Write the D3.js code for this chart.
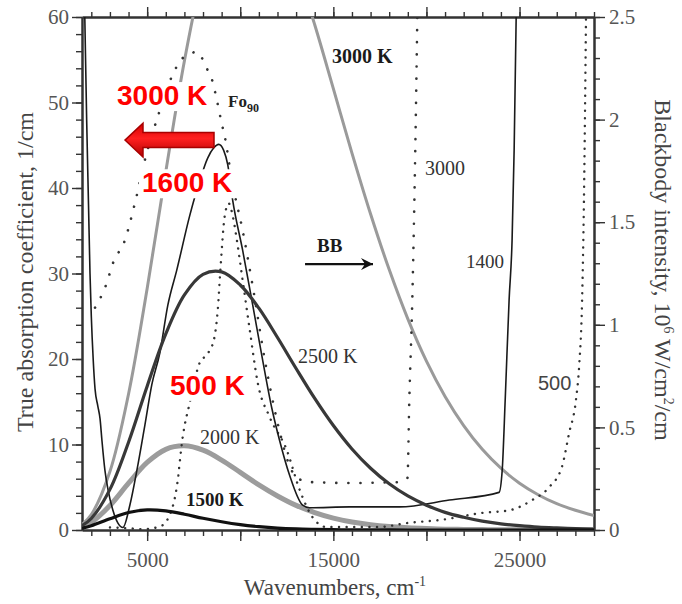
<!DOCTYPE html>
<html>
<head>
<meta charset="utf-8">
<script src="https://cdn.jsdelivr.net/npm/d3@7"></script>
<style>
  body { margin: 0; background: #fff; }
  svg { display: block; }
  .axis text { font-family: 'Liberation Serif', 'Times New Roman', serif; font-size: 21px; fill: #555; }
  .axis path, .axis line { stroke: #333; }
  .axis path { stroke-width: 2; }
  .axis line { stroke-width: 1.4; }
  .lbl { font-family: 'Liberation Serif', 'Times New Roman', serif; fill: #333; }
  .title { font-family: 'Liberation Serif', 'Times New Roman', serif; fill: #444; }
  .red { font-family: 'Liberation Sans', Arial, sans-serif; font-weight: bold; font-size: 28px; fill: #f00; }
  .curve { fill: none; stroke-linejoin: round; }
</style>
</head>
<body>
<div class="chart"></div>
<script>
// wavenumber grid for the blackbody curves (cm-1)
const wnBB = [1500, 2000, 3000, 4000, 5000, 6000, 7000, 8000, 9000, 10000, 11000, 12000, 13000, 14000,
  15000, 16000, 17000, 18000, 19000, 20000, 21000, 22000, 23000, 24000, 25000, 26000, 27000, 28000, 29000];

// blackbody intensity, 10^6 W/cm2/cm (right axis)
const bb1500 = [0.009, 0.021, 0.055, 0.085, 0.098, 0.093, 0.077, 0.057, 0.040, 0.026, 0.016, 0.009, 0.005, 0.003,
  0.0016, 0.0009, 0.0004, 0.0002, 0.0001, 0.0001, 0, 0, 0, 0, 0, 0, 0, 0, 0];
const bb2000 = [0.015, 0.037, 0.119, 0.228, 0.329, 0.393, 0.410, 0.389, 0.341, 0.281, 0.220, 0.166, 0.120, 0.085,
  0.058, 0.039, 0.026, 0.017, 0.011, 0.007, 0.004, 0.003, 0.002, 0.001, 0.001, 0, 0, 0, 0];
const bb2500 = [0.021, 0.056, 0.198, 0.428, 0.701, 0.956, 1.146, 1.246, 1.258, 1.194, 1.081, 0.938, 0.787, 0.641,
  0.509, 0.395, 0.301, 0.225, 0.166, 0.121, 0.086, 0.062, 0.043, 0.030, 0.021, 0.014, 0.010, 0.007, 0.004];
const bb3000 = [0.027, 0.075, 0.285, 0.663, 1.177, 1.746, 2.286, 2.720, 3.010, 3.140, 3.120, 2.980, 2.745, 2.462,
  2.151, 1.837, 1.540, 1.269, 1.029, 0.823, 0.651, 0.509, 0.393, 0.301, 0.228, 0.172, 0.128, 0.096, 0.070];

// true absorption coefficient, 1/cm (left axis)
const abs500Wn = [3000, 4000, 4770, 5680, 6220, 6590, 6910, 7290, 7830, 8200, 8580, 8790, 8950, 9170, 9380,
  9590, 9860, 10130, 10510, 10940, 11580, 12490, 13190, 13880, 14630, 17470, 18920, 20850, 23000, 24440,
  25680, 26590, 27280, 27660, 28030, 28200, 28360, 28460, 28570];
const abs500 = [0.3, 0.2, 0.1, 0.4, 1.8, 5, 10.9, 14.9, 19.6, 20.5, 22.2, 25.7, 31, 36.8, 38.2,
  36.8, 33.3, 29.2, 23.4, 17.2, 13.2, 9.4, 4.7, 1.5, 0.35, 0.35, 0.8, 1.2, 2, 2.3,
  3.5, 5, 7.4, 11.3, 15.2, 19.1, 26.9, 38.6, 60];

const abs1400Wn = [1650, 1750, 1850, 1930, 2000, 2100, 2200, 2350, 2470, 2570, 2730, 2900, 3160, 3430, 3700,
  4070, 4450, 4880, 5250, 5680, 6110, 6590, 7290, 7830, 8250, 8580, 8840, 9110, 9330, 9590,
  10130, 10670, 11200, 11690, 12110, 12650, 13350, 13720, 15870, 18550, 21230, 23900, 24070, 24230, 24440,
  24600, 24710, 24820];
const abs1400 = [60, 48, 38, 30, 25, 20, 16.5, 14.5, 13, 10.5, 7, 4.7, 2.3, 0.8, 0.3,
  2.9, 7, 12.3, 17, 20.7, 26.3, 30.4, 36.8, 40.9, 43.5, 44.7, 45.1, 44.4, 42.7, 38.6,
  32.7, 26.3, 19.9, 14.3, 10.5, 6.4, 2.9, 2.6, 2.7, 2.7, 3.5, 4.4, 7, 15.2, 26.9,
  33.9, 44.4, 60];

const abs3000Wn = [2200, 2730, 3270, 3700, 4340, 4880, 5520, 6490, 6910, 7670, 8200, 8520, 8740, 9000, 9170,
  9540, 10130, 10670, 11310, 12010, 12650, 13100, 13880, 15870, 18550, 18980, 19080, 19240, 19400, 19510];
const abs3000 = [26, 28.3, 31.8, 33.3, 38.2, 43.3, 48, 53.8, 55.2, 55.9, 54, 52.4, 50.3, 47.6, 46,
  41, 35, 28.5, 20, 12.5, 7.5, 6, 5.6, 5.5, 5.6, 6.1, 15.2, 26.9, 44.4, 60];

// ticks
const xMajor = [5000, 10000, 15000, 20000, 25000];
const xLabels = [5000, 15000, 25000];
const yLeftTicks = [0, 10, 20, 30, 40, 50, 60];
const yRightTicks = [0, 0.5, 1, 1.5, 2, 2.5];
const yRightLabels = ['0', '0.5', '1', '1.5', '2', '2.5'];

const margin = { top: 17, right: 88, bottom: 74, left: 82 };
const width = 682 - margin.left - margin.right;
const height = 604 - margin.top - margin.bottom;

const x = d3.scaleLinear().domain([1500, 29000]).range([0, width]);
const yL = d3.scaleLinear().domain([0, 60]).range([height, 0]);
const yR = d3.scaleLinear().domain([0, 2.5]).range([height, 0]);

const root = d3.select('.chart').append('svg')
    .attr('width', 682)
    .attr('height', 604);

const defs = root.append('defs');
defs.append('clipPath').attr('id', 'plot')
  .append('rect').attr('width', width).attr('height', height);

const grad = defs.append('linearGradient').attr('id', 'redgrad')
  .attr('x1', 0).attr('y1', 0).attr('x2', 0).attr('y2', 1);
grad.append('stop').attr('offset', '0%').attr('stop-color', '#d40000');
grad.append('stop').attr('offset', '45%').attr('stop-color', '#ff2020');
grad.append('stop').attr('offset', '100%').attr('stop-color', '#b00000');

defs.append('marker').attr('id', 'head')
    .attr('viewBox', '-12 -6 13 12')
    .attr('refX', 0).attr('refY', 0)
    .attr('markerWidth', 13).attr('markerHeight', 12)
    .attr('markerUnits', 'userSpaceOnUse')
    .attr('orient', 'auto')
  .append('path')
    .attr('d', 'M0,0 L-12,-6 L-8,0 L-12,6 Z')
    .attr('fill', '#111');

const svg = root.append('g')
    .attr('transform', `translate(${margin.left}, ${margin.top})`);

// axes: minor ticks first, then majors with labels
const xMinor = d3.range(2000, 29001, 1000);
svg.append('g').attr('class', 'axis')
    .attr('transform', `translate(0, ${height})`)
    .call(d3.axisBottom(x).tickValues(xMinor).tickSize(6).tickSizeOuter(0).tickFormat(''));
svg.append('g').attr('class', 'axis')
    .attr('transform', `translate(0, ${height})`)
    .call(d3.axisBottom(x).tickValues(xMajor).tickSize(11).tickPadding(11).tickSizeOuter(0)
      .tickFormat(d => xLabels.includes(d) ? d : ''));
svg.append('g').attr('class', 'axis')
    .call(d3.axisTop(x).tickValues(xMinor).tickSize(5).tickSizeOuter(0).tickFormat(''));
svg.append('g').attr('class', 'axis')
    .call(d3.axisTop(x).tickValues(xMajor).tickSize(10).tickSizeOuter(0).tickFormat(''));

svg.append('g').attr('class', 'axis')
    .call(d3.axisLeft(yL).tickValues(d3.range(0, 61, 2)).tickSize(6).tickSizeOuter(0).tickFormat(''));
svg.append('g').attr('class', 'axis')
    .call(d3.axisLeft(yL).tickValues(yLeftTicks).tickSize(10).tickPadding(3).tickSizeOuter(0));

svg.append('g').attr('class', 'axis')
    .attr('transform', `translate(${width}, 0)`)
    .call(d3.axisRight(yR).tickValues(d3.range(0, 2.501, 0.1)).tickSize(6).tickSizeOuter(0).tickFormat(''));
svg.append('g').attr('class', 'axis')
    .attr('transform', `translate(${width}, 0)`)
    .call(d3.axisRight(yR).tickValues(yRightTicks).tickSize(11).tickPadding(4).tickSizeOuter(0)
      .tickFormat((d, i) => yRightLabels[i]));

// curves
const plot = svg.append('g').attr('clip-path', 'url(#plot)');

function drawCurve(wn, vals, yScale, stroke, sw, dash, curve) {
  const line = d3.line()
    .x(d => x(d[0]))
    .y(d => yScale(d[1]))
    .curve(curve || d3.curveMonotoneX);
  plot.append('path')
    .datum(d3.zip(wn, vals))
    .attr('class', 'curve')
    .attr('d', line)
    .attr('stroke', stroke)
    .attr('stroke-width', sw)
    .attr('stroke-linecap', dash ? 'round' : 'butt')
    .attr('stroke-dasharray', dash || null);
}

const smooth = d3.curveCatmullRom.alpha(0.5);
drawCurve(wnBB, bb2000, yR, '#9c9c9c', 5, null, smooth);
drawCurve(wnBB, bb3000, yR, '#9a9a9a', 3, null, smooth);
drawCurve(abs3000Wn, abs3000, yL, '#333', 2.6, '0.1 12');
drawCurve(abs500Wn, abs500, yL, '#333', 2.4, '0.1 7.5');
drawCurve(abs1400Wn, abs1400, yL, '#1a1a1a', 1.6);
drawCurve(wnBB, bb2500, yR, '#383838', 3.2, null, smooth);
drawCurve(wnBB, bb1500, yR, '#111', 3.2, null, smooth);

// plain labels, placed in data coordinates (left axis)
function label(txt, wn, v, size, bold, fam) {
  return svg.append('text')
    .attr('class', 'lbl')
    .attr('x', x(wn))
    .attr('y', yL(v))
    .style('font-size', `${size}px`)
    .style('font-weight', bold ? 'bold' : 'normal')
    .style('font-family', fam || null)
    .text(txt);
}

const fo = label('Fo', 9342, 49.5, 17, true).style('fill', '#222');
fo.append('tspan').attr('dy', 5).style('font-size', '12px').text('90');
label('3000 K', 14928, 54.6, 20, true).style('fill', '#1a1a1a');
label('3000', 19924, 41.5, 20, false);
label('BB', 14122, 32.5, 19, true).style('fill', '#1a1a1a');
label('1400', 22125, 30.6, 19, false);
label('2500 K', 13102, 19.5, 20, false);
label('2000 K', 7838, 10.1, 20, false);
label('1500 K', 7086, 2.8, 19, true).style('fill', '#1a1a1a');
label('500', 25993, 16.4, 20, false, "'Liberation Sans', Arial, sans-serif").style('fill', '#444');

// BB arrow
svg.append('line')
  .attr('x1', x(13480)).attr('x2', x(17130))
  .attr('y1', yL(31.1)).attr('y2', yL(31.1))
  .attr('stroke', '#111').attr('stroke-width', 2.2)
  .attr('marker-end', 'url(#head)');

// red annotations on white boxes
function redLabel(txt, wn, v) {
  const g = svg.append('g');
  const t = g.append('text').attr('class', 'red')
    .attr('x', x(wn)).attr('y', yL(v)).text(txt);
  const b = t.node().getBBox();
  g.insert('rect', 'text')
    .attr('x', b.x - 3).attr('y', b.y + 2)
    .attr('width', b.width + 6).attr('height', b.height - 2)
    .attr('fill', '#fff');
}
redLabel('3000 K', 3380, 49.7);
redLabel('1600 K', 4723, 39.5);
redLabel('500 K', 6227, 15.8);

// red arrow pointing to lower wavenumbers
const tipX = x(3810), baseX = x(4776), tailX = x(8590), cy = yL(45.6);
svg.append('path')
  .attr('d', `M${tipX},${cy} L${baseX},${cy - 17} L${baseX},${cy - 7.5} L${tailX},${cy - 7.5}
    L${tailX},${cy + 7.5} L${baseX},${cy + 7.5} L${baseX},${cy + 17} Z`)
  .attr('fill', 'url(#redgrad)')
  .attr('stroke', '#a80000')
  .attr('stroke-width', 1.5)
  .attr('stroke-linejoin', 'miter');

// axis titles
root.append('text').attr('class', 'title')
  .attr('transform', 'translate(33, 272) rotate(-90)')
  .attr('text-anchor', 'middle')
  .style('font-size', '24px')
  .text('True absorption coefficient, 1/cm');

const rt = root.append('text').attr('class', 'title')
  .attr('transform', 'translate(655, 270) rotate(90)')
  .attr('text-anchor', 'middle')
  .style('font-size', '24px');
rt.append('tspan').text('Blackbody intensity, 10');
rt.append('tspan').attr('dy', -9).style('font-size', '14px').text('6');
rt.append('tspan').attr('dy', 9).text(' W/cm');
rt.append('tspan').attr('dy', -9).style('font-size', '14px').text('2');
rt.append('tspan').attr('dy', 9).text('/cm');

const bt = root.append('text').attr('class', 'title')
  .attr('x', 335).attr('y', 595)
  .attr('text-anchor', 'middle')
  .style('font-size', '23px');
bt.append('tspan').text('Wavenumbers, cm');
bt.append('tspan').attr('dy', -9).style('font-size', '14px').text('-1');
</script>
</body>
</html>
